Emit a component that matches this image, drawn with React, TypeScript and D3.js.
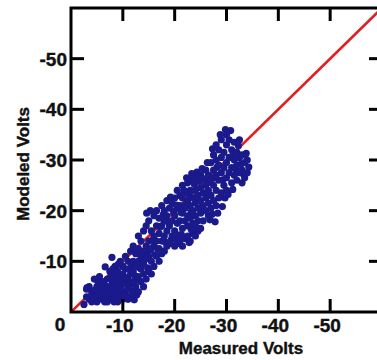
import React from "react";
import * as d3 from "d3";

const xTicks = [-10, -20, -30, -40, -50];
const yTicks = [-10, -20, -30, -40, -50];
const xTitle = "Measured Volts";
const yTitle = "Modeled Volts";

// [measured, modeled] (volts, negative)
const samples: [number, number][] = [
  [-2.5, -1.5], [-3, -3], [-3.1, -4.8], [-3.5, -2.5], [-4, -4], [-4, -2], [-4.5, -3.5], [-4.6, -4.3], [-5, -5], [-5, -3], [-5, -2],
  [-5.5, -4.5], [-6, -6], [-6, -3.5], [-6, -2.5], [-3.5, -5], [-4.5, -6.5], [-5.5, -7], [-6, -5], [-6.5, -4], [-6.5, -2],
  [-3, -4.5], [-6.6, -8.9], [-7.9, -10.8], [-5.5, -3], [-6.5, -3], [-5.2, -6],
  [-7, -2], [-7, -3.5], [-7, -5], [-7, -6.5], [-7.5, -4], [-7.5, -8], [-8, -2.5], [-8, -4.5], [-8, -6], [-8, -7.5],
  [-8.5, -3], [-8.5, -5.5], [-8.5, -9], [-9, -2], [-9, -4], [-9, -6.5], [-9, -8], [-9.5, -3], [-9.5, -5], [-9.5, -10],
  [-10, -2.5], [-10, -4], [-10, -6], [-10, -7.5], [-10, -9], [-10.5, -3.5], [-10.5, -5.5], [-10.5, -8.5], [-10.5, -11],
  [-11, -2.5], [-11, -4.5], [-11, -6.5], [-11, -10], [-11.5, -3], [-11.5, -7.5], [-11.5, -12], [-7.5, -3], [-8, -3.8],
  [-7.2, -2.4], [-9.2, -2.3], [-12.2, -2.4], [-12.7, -3.4], [-7.8, -5.2], [-9.8, -7], [-8.8, -7], [-11.2, -8.5],
  [-4.2, -2.8], [-5.3, -3.9], [-6.3, -5.6], [-6.8, -3.3], [-7.3, -4.6], [-7.7, -6.9], [-8.3, -2], [-8.7, -4.2],
  [-9.3, -5.8], [-9.7, -4.4], [-10.3, -3.1], [-10.7, -6.8], [-11.3, -5.3], [-11.7, -9.2], [-12.3, -7.2], [-12.8, -6.3],
  [-13.2, -8.8], [-13.7, -9.8], [-14.2, -11.2], [-12.7, -11.8], [-11.8, -4.1], [-9.1, -9.4], [-8.1, -8.5],
  [-12, -3.5], [-12, -6], [-12, -8], [-12, -10], [-12, -13], [-12.5, -5], [-12.5, -9], [-12.5, -11.5], [-13, -4],
  [-13, -7], [-13, -10], [-13, -12.5], [-13, -15], [-13.5, -6], [-13.5, -8.5], [-13.5, -11], [-13.5, -14], [-14, -5],
  [-14, -7.5], [-14, -9.5], [-14, -12], [-14, -16], [-14.5, -6.5], [-14.5, -10.5], [-14.5, -13], [-14.5, -17], [-15, -8],
  [-15, -11], [-15, -14], [-15, -18], [-15.5, -7.5], [-15.5, -10], [-15.5, -12.5], [-15.5, -16], [-16, -9], [-16, -13],
  [-16, -15], [-16, -19], [-14.6, -19.5], [-15.3, -20],
  [-14.8, -8.7], [-15.2, -12.2], [-15.8, -14.2], [-16.2, -11.3], [-16.8, -12.4], [-17.2, -16.8], [-17.8, -19.2],
  [-18.2, -13.8], [-18.8, -17.7], [-19.3, -14.2], [-19.8, -19.8],
  [-16.5, -11], [-16.5, -14], [-16.5, -17], [-16.5, -20], [-17, -10], [-17, -12.5], [-17, -15.5], [-17, -18.5],
  [-17.5, -11.5], [-17.5, -14], [-17.5, -17], [-17.5, -21], [-18, -12], [-18, -15], [-18, -18], [-18, -20], [-18.5, -13],
  [-18.5, -16], [-18.5, -19], [-18.5, -22], [-19, -13.5], [-19, -17], [-19, -20.5], [-19.5, -15], [-19.5, -18],
  [-19.5, -21.5], [-20, -13], [-20, -16], [-20, -19], [-20, -22.5], [-19.2, -22.7],
  [-20.5, -13.5], [-21, -14], [-21.5, -13], [-22, -14.5], [-22.5, -15], [-23, -14], [-23.5, -15.5], [-24, -15], [-24.5, -16], [-25, -16.5],
  [-20.2, -14.6], [-21.3, -15.3], [-22.8, -13.7], [-24.2, -16.7], [-23.2, -16.3],
  [-20.5, -17.5], [-20.5, -20.5], [-20.5, -24], [-21, -18], [-21, -21], [-21, -23], [-21.5, -16.5], [-21.5, -19.5],
  [-21.5, -22.5], [-21.5, -25], [-22, -18], [-22, -20.5], [-22, -23.5], [-22.5, -17], [-22.5, -19], [-22.5, -22],
  [-22.5, -25.5], [-23, -18.5], [-23, -21], [-23, -24], [-23, -26], [-23.5, -17.5], [-23.5, -20], [-23.5, -22.5],
  [-24, -19], [-24, -21.5], [-24, -24], [-24, -26.5], [-24.5, -18], [-24.5, -20.5], [-24.5, -23], [-25, -19.5],
  [-25, -22], [-25, -24.5], [-25, -27], [-25.5, -18], [-25.5, -21], [-25.5, -23.5], [-26, -20], [-26, -22.5],
  [-26, -25], [-26, -28],
  [-20.3, -21.1], [-20.8, -15.2], [-21.2, -19.7], [-21.8, -24], [-22.2, -21.3], [-22.8, -23.2], [-23.2, -19.8],
  [-23.8, -25.2], [-24.2, -22.8], [-24.8, -25.8], [-25.2, -20.7], [-25.8, -26.3], [-26.2, -23.6], [-26.8, -18.2],
  [-27.2, -19.3], [-27.8, -17.8], [-28.3, -19.5], [-29.2, -20.8], [-29.7, -22.5], [-26.3, -29.5], [-27.3, -32.2],
  [-28.8, -35], [-29.8, -36], [-30.8, -35.8], [-31.3, -31.2], [-31.8, -28.2], [-32.3, -32.8], [-32.8, -29.2],
  [-33.3, -27.2], [-33.8, -31.3], [-34.3, -28.6], [-30.3, -23.2], [-31.2, -24.2], [-29.3, -26.1], [-28.2, -28.6],
  [-27.7, -26.5], [-26.7, -25.6], [-25.3, -28.3], [-24.3, -27.6], [-23.3, -27.3], [-22.3, -26.5],
  [-26.5, -19], [-26.5, -21.5], [-26.5, -24], [-26.5, -27], [-27, -20.5], [-27, -23], [-27, -26], [-27, -29.5],
  [-27.5, -22], [-27.5, -25], [-27.5, -28], [-27.5, -31], [-28, -21], [-28, -24], [-28, -27], [-28, -30], [-28, -33],
  [-28.5, -22.5], [-28.5, -26], [-28.5, -29], [-28.5, -32], [-29, -23.5], [-29, -27.5], [-29, -30.5], [-29, -34],
  [-29.5, -25], [-29.5, -28.5], [-29.5, -31.5], [-30, -24], [-30, -26.5], [-30, -29.5], [-30, -33], [-30, -35],
  [-30.5, -27.5], [-30.5, -30.5], [-30.5, -34], [-31, -25.5], [-31, -28.5], [-31, -32], [-31.5, -27], [-31.5, -30],
  [-31.5, -33.5], [-32, -26], [-32, -29], [-32, -31.5], [-32.5, -27.5], [-32.5, -30.5], [-32.5, -34], [-33, -25.5],
  [-33, -28], [-33, -31], [-33.5, -26.5], [-33.5, -29.5], [-34, -27.5], [-34, -30],
];

const fitLine: [number, number][] = [[0, 0], [-60, -60]];

const W = 377;
const H = 360;
const m = { left: 71, right: 382, top: 8, bottom: 312 };

export default function App() {
  const x = d3.scaleLinear().domain([0, -60]).range([m.left, m.right]);
  const y = d3.scaleLinear().domain([0, -60]).range([m.bottom, m.top]);
  const line = d3.line<[number, number]>().x((d) => x(d[0])).y((d) => y(d[1]));
  const tickLen = 13;
  const font = "'Liberation Sans', Arial, sans-serif";
  const textProps = { fontFamily: font, fontWeight: "bold", fill: "#111", stroke: "#111", strokeWidth: 0.4 };
  return (
    <svg width={W} height={H} style={{ position: "absolute", left: 0, top: 0, background: "#fff" }}>
      <defs>
        <clipPath id="plot">
          <rect x={m.left} y={m.top} width={m.right - m.left} height={m.bottom - m.top} />
        </clipPath>
      </defs>
      <path d={line(fitLine) || ""} stroke="#e02020" strokeWidth={2.6} fill="none" clipPath="url(#plot)" />
      <g clipPath="url(#plot)">
        {samples.map((d, i) => (
          <circle key={i} cx={x(d[0])} cy={y(d[1])} r={3.6} fill="#1a1a8c" />
        ))}
      </g>
      <rect x={m.left} y={m.top} width={m.right - m.left} height={m.bottom - m.top} fill="none" stroke="#000" strokeWidth={3} />
      {xTicks.map((t) => (
        <g key={"x" + t}>
          <line x1={x(t)} x2={x(t)} y1={m.bottom} y2={m.bottom - tickLen} stroke="#000" strokeWidth={3} />
          <line x1={x(t)} x2={x(t)} y1={m.top} y2={m.top + tickLen} stroke="#000" strokeWidth={3} />
          <text x={x(t) - 3} y={332} textAnchor="middle" fontSize={19} {...textProps}>
            {t}
          </text>
        </g>
      ))}
      {yTicks.map((t) => (
        <g key={"y" + t}>
          <line x1={m.left} x2={m.left + tickLen} y1={y(t)} y2={y(t)} stroke="#000" strokeWidth={3} />
          <line x1={m.right} x2={m.right - tickLen} y1={y(t)} y2={y(t)} stroke="#000" strokeWidth={3} />
          <text x={67} y={y(t)} dy="0.36em" textAnchor="end" fontSize={19} {...textProps}>
            {t}
          </text>
        </g>
      ))}
      <text x={x(0) - 11} y={331} textAnchor="middle" fontSize={19} {...textProps}>
        0
      </text>
      <text x={241} y={354} textAnchor="middle" fontSize={17} {...textProps}>
        {xTitle}
      </text>
      <text transform={`translate(29, ${164}) rotate(-90)`} textAnchor="middle" fontSize={17} {...textProps}>
        {yTitle}
      </text>
    </svg>
  );
}
